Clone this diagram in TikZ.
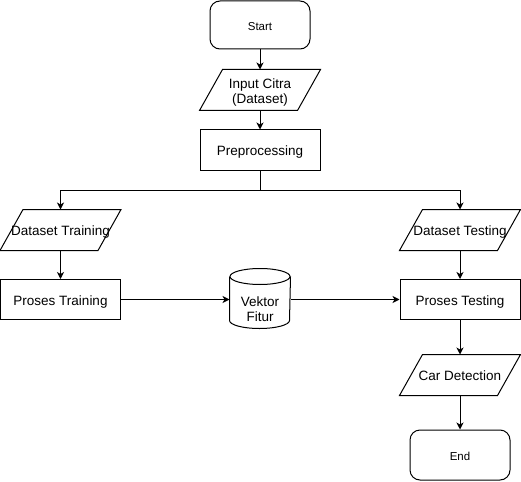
\documentclass[tikz,border=0pt]{standalone}
\usepackage{fontspec}
\setmainfont{Liberation Sans}
\usetikzlibrary{arrows.meta}
\tikzset{
    terminal-box/.style = {draw, rectangle, rounded corners=10pt, minimum width=100pt, minimum height=48pt, inner sep=0pt, text height=10.2pt, text depth=0pt, font=\fontsize{11.5}{14}\selectfont},
    process-box/.style = {draw, rectangle, minimum width=120pt, minimum height=40pt, inner sep=0pt, text height=11.7pt, text depth=0pt, font=\fontsize{13.5}{17}\selectfont},
    io-box/.style = {rectangle, minimum width=120pt, minimum height=40pt, inner sep=0pt, align=center, text height=11.7pt, text depth=0pt, font=\fontsize{13.5}{15.7}\selectfont},
    store-box/.style = {rectangle, minimum width=60pt, minimum height=43pt, inner sep=0pt, align=center, text height=29.5pt, text depth=0pt, font=\fontsize{13.5}{15}\selectfont},
    flow-arrow/.style = {-{Stealth[length=7pt, width=7pt, inset=2pt]}},
}

\begin{document}
\begin{tikzpicture}[x=1pt, y=-1pt, line width=1pt]
\useasboundingbox (0,0) rectangle (521,481);

\node [terminal-box] (start) at (260,25) {Start};
\node [io-box, text height=27.8pt] (input) at (260,90) {Input Citra\\(Dataset)};
\node [process-box] (prep) at (260,150) {Preprocessing};
\node [io-box] (dtrain) at (60.5,230) {Dataset Training};
\node [io-box] (dtest) at (460,230) {Dataset Testing};
\node [process-box] (ptrain) at (60.5,299.5) {Proses Training};
\node [store-box] (vektor) at (260,306.5) {Vektor\\Fitur};
\node [process-box] (ptest) at (460,299.5) {Proses Testing};
\node [io-box] (car) at (460,375) {Car Detection};
\node [terminal-box, minimum height=50pt] (end) at (460,455) {End};

% input/output shapes
\foreach \n in {input, dtrain, dtest, car}
    \draw ([xshift=23pt]\n.north west) -- (\n.north east) -- ([xshift=-23pt]\n.south east) -- (\n.south west) -- cycle;

% database
\draw ([yshift=8pt]vektor.north west) -- ([yshift=8pt]vektor.south west)
    arc [start angle=180, end angle=360, x radius=30pt, y radius=8pt]
    -- ([yshift=8pt]vektor.north east);
\draw ([yshift=8pt]vektor.north) ellipse [x radius=30pt, y radius=8pt];

\draw [flow-arrow] (start) -- (input);
\draw [flow-arrow] (input) -- (prep);
\draw [flow-arrow] (prep.south) -- ++(0,20) -| (dtrain.north);
\draw [flow-arrow] (prep.south) -- ++(0,20) -| (dtest.north);
\draw [flow-arrow] (dtrain) -- (ptrain);
\draw [flow-arrow] (ptrain.east) -- (ptrain.east -| vektor.west);
\draw [flow-arrow] (vektor.east |- ptest.west) -- (ptest.west);
\draw [flow-arrow] (dtest) -- (ptest);
\draw [flow-arrow] (ptest) -- (car);
\draw [flow-arrow] (car) -- (end);
\end{tikzpicture}
\end{document}
